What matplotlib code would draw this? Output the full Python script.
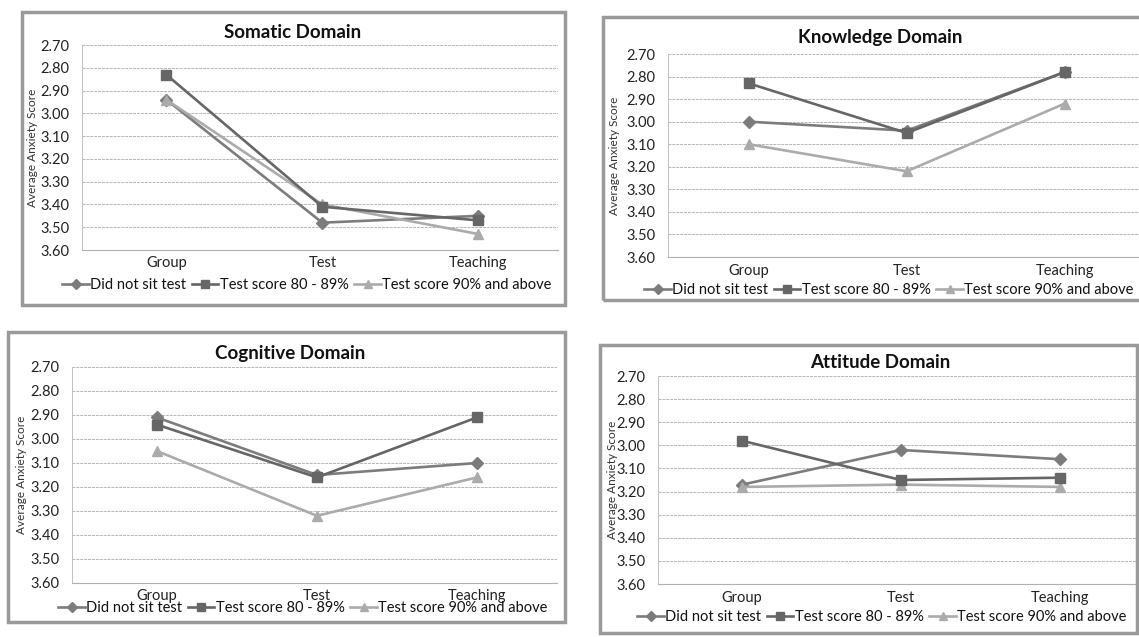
import numpy as np
import matplotlib
matplotlib.use("Agg")
import matplotlib.pyplot as plt
from matplotlib.patches import Rectangle

plt.rcParams['font.family'] = ['Lato', 'DejaVu Sans']

W, H = 1139, 637

categories = ["Group", "Test", "Teaching"]
series_names = ["Did not sit test", "Test score 80 - 89%", "Test score 90% and above"]
y_ticks = [2.70, 2.80, 2.90, 3.00, 3.10, 3.20, 3.30, 3.40, 3.50, 3.60]

somatic_not_sat = [2.94, 3.48, 3.45]
somatic_80_89 = [2.83, 3.41, 3.47]
somatic_90_up = [2.94, 3.40, 3.53]

knowledge_not_sat = [3.00, 3.04, 2.78]
knowledge_80_89 = [2.83, 3.05, 2.78]
knowledge_90_up = [3.10, 3.22, 2.92]

cognitive_not_sat = [2.91, 3.15, 3.10]
cognitive_80_89 = [2.94, 3.16, 2.91]
cognitive_90_up = [3.05, 3.32, 3.16]

attitude_not_sat = [3.17, 3.02, 3.06]
attitude_80_89 = [2.98, 3.15, 3.14]
attitude_90_up = [3.18, 3.17, 3.18]

# series styles (grey scan look)
colors = ["#7c7c7c", "#666666", "#ababab"]
markers = ["D", "s", "^"]
msizes = [6, 7.5, 7.5]

# panel layout in pixels
panels = [
    dict(title="Somatic Domain", data=[somatic_not_sat, somatic_80_89, somatic_90_up],
         box=(22, 12, 565, 305), ax=(82, 45, 558, 250), xlim=(-0.54, 2.51),
         tpos=(293, 32), leg=(307, 285), ylab=33, xpad=4),
    dict(title="Knowledge Domain", data=[knowledge_not_sat, knowledge_80_89, knowledge_90_up],
         box=(603, 17, 1160, 300), ax=(668, 54, 1139, 257), xlim=(-0.51, 2.47),
         tpos=(880, 38), leg=(889, 290), ylab=615, xpad=5),
    dict(title="Cognitive Domain", data=[cognitive_not_sat, cognitive_80_89, cognitive_90_up],
         box=(8, 332, 565, 622), ax=(72, 367, 557, 583), xlim=(-0.53, 2.5),
         tpos=(290, 353), leg=(303, 608), ylab=22, xpad=4),
    dict(title="Attitude Domain", data=[attitude_not_sat, attitude_80_89, attitude_90_up],
         box=(600, 345, 1137, 633), ax=(658, 376, 1139, 584), xlim=(-0.53, 2.5),
         tpos=(880, 363), leg=(882, 617), ylab=612, xpad=5),
]

fig = plt.figure(figsize=(W / 100, H / 100), dpi=100)
fig.patch.set_facecolor("white")

x = np.arange(len(categories))

for p in panels:
    bx0, by0, bx1, by1 = p["box"]
    fig.patches.append(Rectangle((bx0 / W, 1 - by1 / H), (bx1 - bx0) / W, (by1 - by0) / H,
                                 transform=fig.transFigure, fill=False,
                                 edgecolor="#9a9a9a", linewidth=2.5))
    x0, y0, x1, y1 = p["ax"]
    ax = fig.add_axes([x0 / W, 1 - y1 / H, (x1 - x0) / W, (y1 - y0) / H])
    for i, vals in enumerate(p["data"]):
        ax.plot(x, vals, color=colors[i], marker=markers[i], markersize=msizes[i],
                linewidth=1.9, label=series_names[i], zorder=3 + (1 if i == 1 else 0))
    ax.set_ylim(3.60, 2.70)
    ax.set_xlim(*p["xlim"])
    ax.set_yticks(y_ticks)
    ax.set_yticklabels([f"{v:.2f}" for v in y_ticks], fontsize=10.5, color="#222222")
    ax.set_xticks(x)
    ax.set_xticklabels(categories, fontsize=10.5, color="#222222")
    ax.tick_params(axis="y", length=0, pad=9)
    ax.tick_params(axis="x", length=0, pad=p["xpad"])
    ax.grid(axis="y", color="#b5b5b5", linewidth=0.7, linestyle=(0, (3, 1)))
    for s in ["top", "right"]:
        ax.spines[s].set_visible(False)
    ax.spines["left"].set_color("#c0c0c0")
    ax.spines["left"].set_linestyle((0, (1, 1)))
    ax.spines["left"].set_linewidth(0.7)
    ax.spines["bottom"].set_color("#b0b0b0")
    ax.spines["bottom"].set_linewidth(0.8)
    fig.text(p["tpos"][0] / W, 1 - p["tpos"][1] / H, p["title"], ha="center", va="center",
             fontsize=13.5, fontweight="bold", color="#111111")
    fig.text(p["ylab"] / W, 1 - ((y0 + y1) / 2) / H, "Average Anxiety Score", rotation=90,
             ha="center", va="center", fontsize=8.5, color="#333333")
    ax.legend(loc="center", bbox_to_anchor=(p["leg"][0] / W, 1 - p["leg"][1] / H),
              bbox_transform=fig.transFigure, ncol=3, frameon=False, fontsize=10.5,
              handlelength=1.8, handletextpad=0.1, columnspacing=0.4, borderpad=0,
              borderaxespad=0, labelcolor="#111111", markerscale=0.85)

fig.savefig("out.png", dpi=100)
